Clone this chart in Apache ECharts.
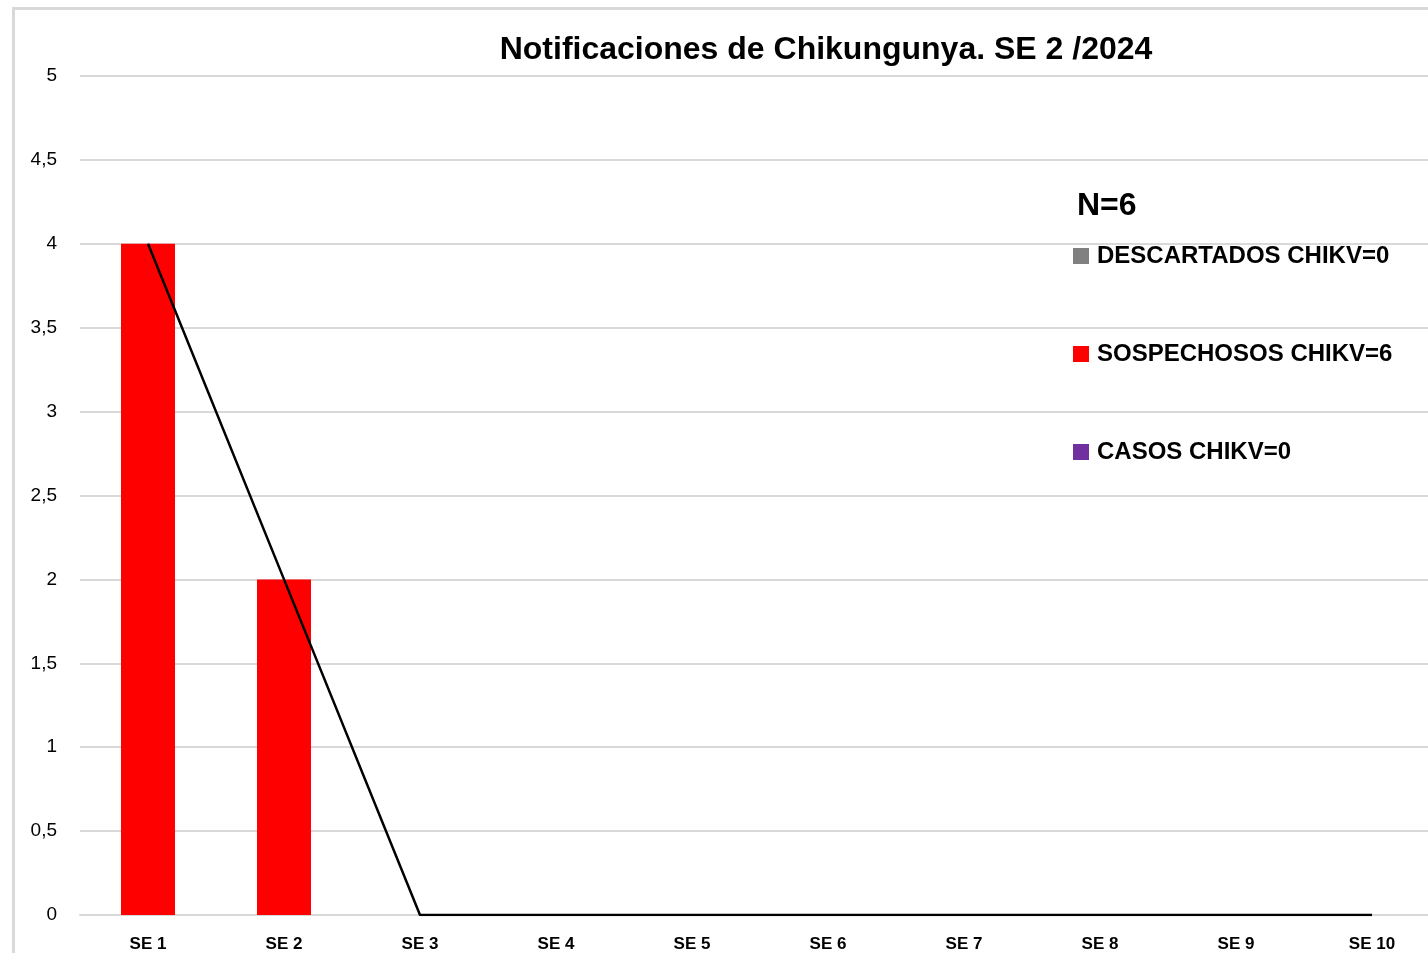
<!DOCTYPE html>
<html>
<head>
<meta charset="utf-8">
<script src="https://cdn.jsdelivr.net/npm/echarts@6/dist/echarts.min.js"></script>
<style>
	html, body { margin: 0; padding: 0; background: #fff; overflow: hidden; }
	#chart { width: 1460px; height: 953px; }
</style>
</head>
<body>
<div id="chart"></div>
<script>
	var weeks = ["SE 1", "SE 2", "SE 3", "SE 4", "SE 5", "SE 6", "SE 7", "SE 8", "SE 9", "SE 10"];
	var descartados = [0, 0, 0, 0, 0, 0, 0, 0, 0, 0];
	var sospechosos = [4, 2, 0, 0, 0, 0, 0, 0, 0, 0];
	var casos = [0, 0, 0, 0, 0, 0, 0, 0, 0, 0];
	var tendencia = [4, 2, 0, 0, 0, 0, 0, 0, 0, 0];
	var legendNames = ["DESCARTADOS CHIKV=0", "SOSPECHOSOS CHIKV=6", "CASOS CHIKV=0"];

	var font = "'Liberation Sans', Arial, sans-serif";
	var chart = echarts.init(document.getElementById("chart"));

	chart.setOption({
		animation: false,
		title: {
			text: "Notificaciones de Chikungunya. SE 2 /2024",
			left: 821,
			top: 29,
			textAlign: "center",
			textStyle: { fontFamily: font, fontSize: 32, fontWeight: "bold", color: "#000" }
		},
		legend: {
			orient: "vertical",
			left: 1073,
			top: 244,
			padding: 0,
			itemWidth: 16,
			itemHeight: 16,
			itemGap: 74,
			icon: "rect",
			data: legendNames,
			selectedMode: false,
			textStyle: { fontFamily: font, fontSize: 24, fontWeight: "bold", color: "#000", lineHeight: 24, padding: [0, 0, 0, 3] }
		},
		graphic: [
			{
				type: "rect",
				shape: { x: 13.5, y: 8.5, width: 1500, height: 1000 },
				style: { fill: "none", stroke: "#d9d9d9", lineWidth: 3 },
				silent: true
			},
			{
				type: "text",
				left: 1077,
				top: 190,
				style: { text: "N=6", fontFamily: font, fontSize: 32, fontWeight: "bold", fill: "#000" }
			}
		],
		grid: { left: 80, top: 76, width: 1360, bottom: 38, containLabel: false },
		xAxis: {
			type: "category",
			data: weeks,
			axisLine: { lineStyle: { color: "#d9d9d9", width: 2 } },
			axisTick: { show: false },
			axisLabel: { fontFamily: font, fontSize: 17, fontWeight: "bold", color: "#000", margin: 21 }
		},
		yAxis: {
			type: "value",
			min: 0,
			max: 5,
			interval: 0.5,
			axisLine: { show: false },
			axisTick: { show: false },
			splitLine: { lineStyle: { color: "#d9d9d9", width: 2 } },
			axisLabel: {
				fontFamily: font, fontSize: 19, color: "#000", margin: 23,
				formatter: function(v) { return String(v).replace(".", ","); }
			}
		},
		series: [
			{ name: legendNames[0], type: "bar", stack: "n", data: descartados, barWidth: 54, itemStyle: { color: "#808080" } },
			{ name: legendNames[1], type: "bar", stack: "n", data: sospechosos, barWidth: 54, itemStyle: { color: "#ff0000" } },
			{ name: legendNames[2], type: "bar", stack: "n", data: casos, barWidth: 54, itemStyle: { color: "#7030a0" } },
			{
				name: "tendencia", type: "line", data: tendencia, symbol: "none",
				lineStyle: { color: "#000", width: 2.5 }, z: 5
			}
		]
	});
</script>
</body>
</html>
